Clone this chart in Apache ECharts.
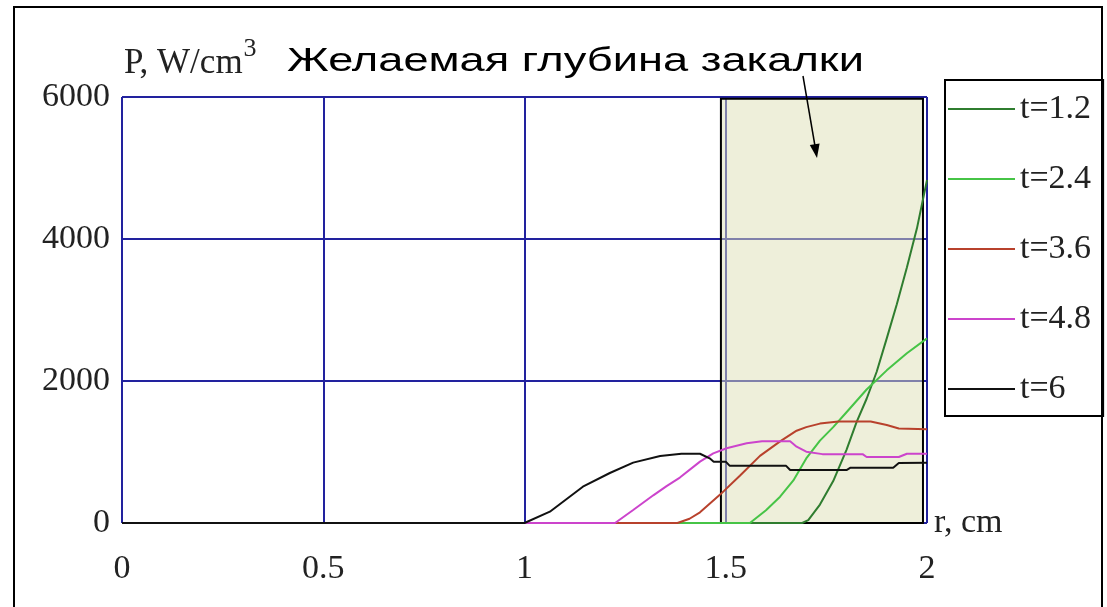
<!DOCTYPE html>
<html>
<head>
<meta charset="utf-8">
<script src="https://cdn.jsdelivr.net/npm/echarts@6/dist/echarts.min.js"></script>
<style>
  html, body { margin: 0; padding: 0; background: #ffffff; }
  #chart { width: 1107px; height: 607px; }
</style>
</head>
<body>
<div id="chart"></div>
<script>
// Axis ticks
const xTicks = [0, 0.5, 1, 1.5, 2];
const yTicks = [0, 2000, 4000, 6000];

// Series names (time moments)
const seriesNames = ['t=1.2', 't=2.4', 't=3.6', 't=4.8', 't=6'];

// Power density P (W/cm^3) versus radius r (cm), one list per moment
const pT12 = [[0, 0], [1.69, 0], [1.705, 40], [1.734, 260], [1.767, 590], [1.80, 1030], [1.825, 1420],
  [1.85, 1750], [1.875, 2130], [1.90, 2600], [1.925, 3080], [1.95, 3600], [1.975, 4150], [2.0, 4830]];
const pT24 = [[0, 0], [1.56, 0], [1.60, 180], [1.635, 370], [1.668, 600], [1.70, 910], [1.734, 1160],
  [1.767, 1350], [1.80, 1560], [1.85, 1880], [1.90, 2150], [1.95, 2390], [2.0, 2600]];
const pT36 = [[0, 0], [1.38, 0], [1.41, 60], [1.436, 150], [1.486, 400], [1.535, 665], [1.585, 945],
  [1.635, 1150], [1.676, 1300], [1.70, 1350], [1.734, 1400], [1.78, 1430], [1.86, 1430], [1.90, 1380],
  [1.93, 1330], [2.0, 1320]];
const pT48 = [[0, 0], [1.225, 0], [1.27, 183], [1.32, 390], [1.353, 520], [1.386, 640], [1.436, 864],
  [1.469, 981], [1.502, 1052], [1.552, 1122], [1.59, 1150], [1.66, 1150], [1.676, 1075], [1.70, 1004],
  [1.74, 970], [1.84, 970], [1.85, 930], [1.93, 930], [1.95, 975], [2.0, 975]];
const pT6 = [[0, 0], [1.0, 0], [1.063, 159], [1.145, 511], [1.212, 704], [1.27, 850], [1.337, 944],
  [1.39, 975], [1.436, 975], [1.46, 911], [1.47, 864], [1.50, 864], [1.51, 805], [1.65, 805],
  [1.66, 746], [1.80, 746], [1.81, 779], [1.916, 779], [1.93, 845], [2.0, 850]];

// Desired hardening depth band, in axis units
const bandR = [1.488, 1.99];
const bandP = [-30, 5975];

const seriesData = [pT12, pT24, pT36, pT48, pT6];
const seriesColors = ['#2f7d2f', '#46c446', '#b8412c', '#cc44cc', '#111111'];

const serifFont = '"Liberation Serif", "DejaVu Serif", serif';
const gridBlue = '#22229e';

const chart = echarts.init(document.getElementById('chart'), null, { renderer: 'canvas' });

const lineSeries = seriesNames.map((name, i) => ({
  name: name,
  type: 'line',
  data: seriesData[i],
  symbol: 'none',
  z: 3,
  lineStyle: { color: seriesColors[i], width: 2 },
  itemStyle: { color: seriesColors[i] },
  emphasis: { disabled: true }
}));

// Shaded band drawn through the axes
lineSeries.unshift({
  name: 'band',
  type: 'line',
  data: [],
  clip: false,
  z: 2,
  silent: true,
  markArea: {
    silent: true,
    itemStyle: {
      color: 'rgba(221,223,181,0.5)',
      borderColor: '#000000',
      borderWidth: 2
    },
    data: [[{ coord: [bandR[0], bandP[0]] }, { coord: [bandR[1], bandP[1]] }]]
  }
});

const option = {
  animation: false,
  backgroundColor: '#ffffff',
  grid: { left: 122, right: 180, top: 97, bottom: 84, containLabel: false },
  xAxis: {
    type: 'value',
    min: xTicks[0],
    max: xTicks[xTicks.length - 1],
    interval: xTicks[1] - xTicks[0],
    name: 'r, cm',
    nameLocation: 'end',
    nameGap: 7,
    nameTextStyle: { fontFamily: serifFont, fontSize: 34, color: '#222', padding: [18, 0, 0, 0] },
    axisLine: { show: false },
    axisTick: { show: false },
    axisLabel: { fontFamily: serifFont, fontSize: 34, color: '#222', margin: 29, formatter: v => String(v) },
    splitLine: { show: true, lineStyle: { color: gridBlue, width: 2 } }
  },
  yAxis: {
    type: 'value',
    min: yTicks[0],
    max: yTicks[yTicks.length - 1],
    interval: yTicks[1] - yTicks[0],
    name: 'P, W/cm{sup|3}',
    nameLocation: 'end',
    nameGap: 5,
    nameTextStyle: {
      fontFamily: serifFont, fontSize: 35, lineHeight: 56, color: '#222', align: 'left', verticalAlign: 'bottom',
      padding: [0, 0, 0, 2],
      rich: { sup: { fontFamily: serifFont, fontSize: 26, lineHeight: 26, color: '#222', verticalAlign: 'top', padding: [0, 0, 0, 1] } }
    },
    axisLine: { show: false },
    axisTick: { show: false },
    axisLabel: { fontFamily: serifFont, fontSize: 34, color: '#222', margin: 12, formatter: v => String(v) },
    splitLine: { show: true, lineStyle: { color: gridBlue, width: 2 } }
  },
  legend: {
    data: seriesNames.map(n => ({ name: n, icon: 'rect' })),
    orient: 'vertical',
    left: 945,
    top: 80,
    padding: [12, 12, 10, 3],
    itemWidth: 67,
    itemHeight: 2,
    itemGap: 36,
    borderColor: '#000000',
    borderWidth: 2,
    backgroundColor: '#ffffff',
    selectedMode: false,
    textStyle: { fontFamily: serifFont, fontSize: 34, color: '#222' }
  },
  graphic: [
    {
      type: 'rect',
      silent: true,
      z: 100,
      shape: { x: 14, y: 7, width: 1088, height: 640 },
      style: { fill: 'none', stroke: '#000000', lineWidth: 2 }
    },
    {
      type: 'text',
      silent: true,
      z: 100,
      x: 287,
      y: 62,
      scaleX: 1.33,
      style: {
        text: 'Желаемая глубина закалки',
        font: '34px "Liberation Sans", Arial, sans-serif',
        fill: '#000000',
        textAlign: 'left',
        textVerticalAlign: 'middle'
      }
    },
    {
      type: 'line',
      silent: true,
      z: 100,
      shape: { x1: 803, y1: 76, x2: 815.5, y2: 149 },
      style: { stroke: '#000000', lineWidth: 1.5 }
    },
    {
      type: 'polygon',
      silent: true,
      z: 100,
      shape: { points: [[819.6, 143.4], [809.8, 145.0], [817, 158]] },
      style: { fill: '#000000' }
    }
  ],
  series: lineSeries
};

chart.setOption(option);
</script>
</body>
</html>
